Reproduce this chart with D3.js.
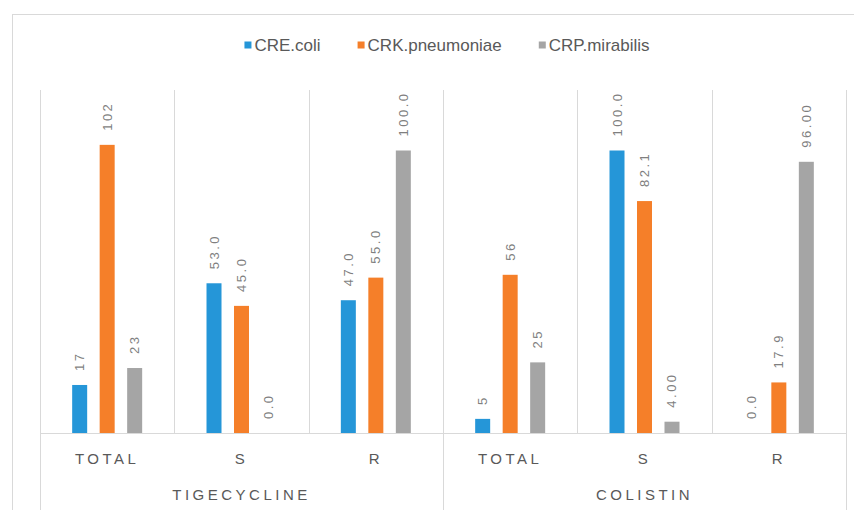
<!DOCTYPE html>
<html>
<head>
<meta charset="utf-8">
<script src="https://cdn.jsdelivr.net/npm/d3@7"></script>
<style>
  html, body { margin: 0; padding: 0; background: #ffffff; }
  svg { display: block; }
</style>
</head>
<body>
<svg id="chart" width="854" height="510"></svg>
<script>
// ---- data ----
const groups = ["TIGECYCLINE", "COLISTIN"];
const subCategories = ["TOTAL", "S", "R"];
const seriesNames = ["CRE.coli", "CRK.pneumoniae", "CRP.mirabilis"];
const seriesColors = ["#2596d8", "#f57f29", "#a5a5a5"];
// values per category (TIG TOTAL, TIG S, TIG R, COL TOTAL, COL S, COL R)
const creColi = [17, 53.0, 47.0, 5, 100.0, 0.0];
const crkPneumoniae = [102, 45.0, 55.0, 56, 82.1, 17.9];
const crpMirabilis = [23, 0.0, 100.0, 25, 4.00, 96.00];
// data-label texts as shown
const creColiLabels = ["17", "53.0", "47.0", "5", "100.0", "0.0"];
const crkPneumoniaeLabels = ["102", "45.0", "55.0", "56", "82.1", "17.9"];
const crpMirabilisLabels = ["23", "0.0", "100.0", "25", "4.00", "96.00"];
const yMax = 120;

// ---- build ----
const seriesValues = [creColi, crkPneumoniae, crpMirabilis];
const seriesLabels = [creColiLabels, crkPneumoniaeLabels, crpMirabilisLabels];
const categories = [];
groups.forEach(g => subCategories.forEach(s => categories.push({ group: g, sub: s, key: g + "|" + s })));

const svg = d3.select("#chart");
const plot = { left: 40, right: 846, top: 94, bottom: 433, lineTop: 90 };
const gridColor = "#d9d9d9";
const textColor = "#595959";

// outer chart border
svg.append("rect")
  .attr("x", 12.5).attr("y", 14.5)
  .attr("width", 900).attr("height", 600)
  .attr("fill", "#ffffff").attr("stroke", gridColor).attr("stroke-width", 1);

const x0 = d3.scaleBand().domain(categories.map(c => c.key)).range([plot.left, plot.right]).padding(0);
const x1 = d3.scaleBand().domain(seriesNames).range([0, x0.bandwidth()])
  .paddingInner(0.4545).paddingOuter(1.17);
const y = d3.scaleLinear().domain([0, yMax]).range([plot.bottom, plot.top]);

// inner category separators
const innerSeps = categories.slice(1).filter(c => c.sub !== subCategories[0]).map(c => x0(c.key));
svg.selectAll("line.inner").data(innerSeps).enter().append("line")
  .attr("class", "inner")
  .attr("x1", d => Math.round(d) + 0.5).attr("x2", d => Math.round(d) + 0.5)
  .attr("y1", plot.lineTop).attr("y2", plot.bottom)
  .attr("stroke", gridColor);

// group separators (full height)
const groupSeps = [plot.left, x0(groups[1] + "|" + subCategories[0]), plot.right];
svg.selectAll("line.outer").data(groupSeps).enter().append("line")
  .attr("class", "outer")
  .attr("x1", d => Math.round(d) + 0.5).attr("x2", d => Math.round(d) + 0.5)
  .attr("y1", plot.lineTop).attr("y2", 510)
  .attr("stroke", gridColor);

// baseline
svg.append("line")
  .attr("x1", plot.left).attr("x2", plot.right)
  .attr("y1", y(0) + 0.5).attr("y2", y(0) + 0.5)
  .attr("stroke", gridColor);

// bars
const barData = [];
seriesNames.forEach((s, si) => {
  categories.forEach((c, ci) => {
    barData.push({ series: s, si: si, cat: c.key, value: seriesValues[si][ci], label: seriesLabels[si][ci] });
  });
});

svg.selectAll("rect.bar").data(barData).enter().append("rect")
  .attr("class", "bar")
  .attr("x", d => x0(d.cat) + x1(d.series))
  .attr("width", x1.bandwidth())
  .attr("y", d => y(d.value))
  .attr("height", d => y(0) - y(d.value))
  .attr("fill", d => seriesColors[d.si]);

// data labels (rotated)
svg.selectAll("text.lbl").data(barData).enter().append("text")
  .attr("class", "lbl")
  .attr("transform", d => {
    const cx = x0(d.cat) + x1(d.series) + x1.bandwidth() / 2;
    const ty = y(d.value) - 14;
    return `translate(${cx},${ty}) rotate(-90)`;
  })
  .attr("text-anchor", "start")
  .attr("dominant-baseline", "central")
  .attr("font-family", "'Liberation Sans', Arial, sans-serif")
  .attr("font-size", 13)
  .attr("letter-spacing", "2.5px")
  .attr("fill", "#7f7f7f")
  .text(d => d.label);

// category labels
svg.selectAll("text.cat").data(categories).enter().append("text")
  .attr("class", "cat")
  .attr("x", d => x0(d.key) + x0.bandwidth() / 2)
  .attr("y", 458)
  .attr("text-anchor", "middle")
  .attr("dominant-baseline", "central")
  .attr("font-family", "'Liberation Sans', Arial, sans-serif")
  .attr("font-size", 15)
  .attr("letter-spacing", "3.5px")
  .attr("fill", textColor)
  .text(d => d.sub);

// group labels
svg.selectAll("text.grp").data(groups).enter().append("text")
  .attr("class", "grp")
  .attr("x", g => {
    const keys = subCategories.map(s => g + "|" + s);
    return (x0(keys[0]) + x0(keys[keys.length - 1]) + x0.bandwidth()) / 2;
  })
  .attr("y", 494)
  .attr("text-anchor", "middle")
  .attr("dominant-baseline", "central")
  .attr("font-family", "'Liberation Sans', Arial, sans-serif")
  .attr("font-size", 15)
  .attr("letter-spacing", "3.5px")
  .attr("fill", textColor)
  .text(g => g);

// legend
const legend = svg.append("g");
const legendItems = legend.selectAll("g.item").data(seriesNames).enter().append("g").attr("class", "item");
legendItems.append("rect")
  .attr("x", 0).attr("y", -3.5).attr("width", 7).attr("height", 7)
  .attr("fill", (d, i) => seriesColors[i]);
legendItems.append("text")
  .attr("x", 10).attr("y", 0)
  .attr("dominant-baseline", "central")
  .attr("font-family", "'Liberation Sans', Arial, sans-serif")
  .attr("font-size", 17)
  .attr("fill", textColor)
  .text(d => d);
let offset = 0;
const itemGap = 37;
legendItems.each(function () {
  const w = this.getBBox().width;
  d3.select(this).attr("transform", `translate(${offset},0)`);
  offset += w + itemGap;
});
const totalW = offset - itemGap;
legend.attr("transform", `translate(${447 - totalW / 2},45)`);
</script>
</body>
</html>
